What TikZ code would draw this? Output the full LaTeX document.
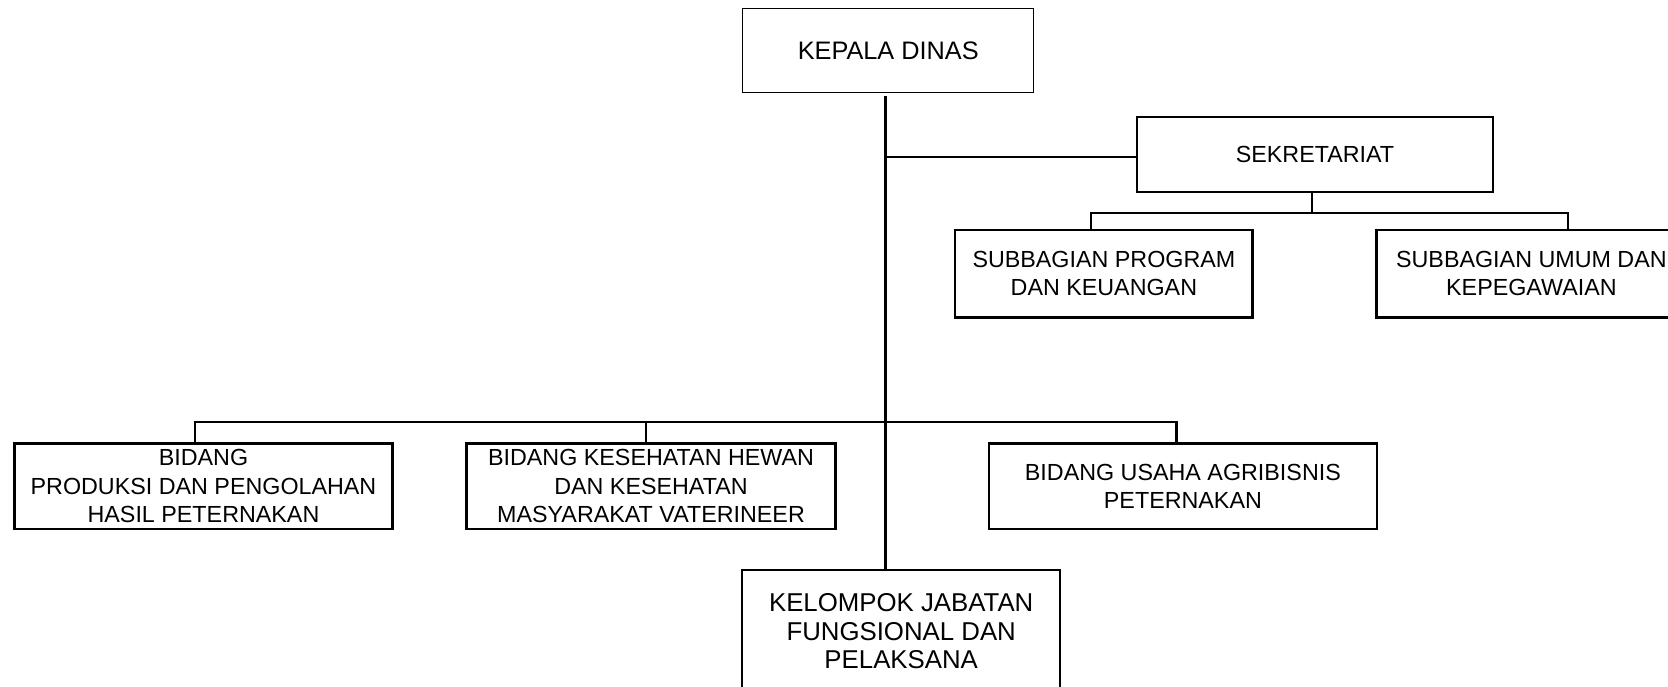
\documentclass[tikz,border=0pt]{standalone}
\usepackage{fontspec}
\setmainfont{Liberation Sans}
\begin{document}
\begin{tikzpicture}[x=1pt,y=-1pt,
  box/.style={draw=black, rectangle, inner sep=0pt, align=center,
    font=\fontsize{23.3}{28.5}\selectfont, line width=2.5pt},
  bigbox/.style={box, font=\fontsize{25.3}{28.5}\selectfont},
  conn/.style={draw=black, line width=2.2pt},
  trunk/.style={draw=black, line width=3pt}]
\useasboundingbox (0,0) rectangle (1668,687);
\fill[white] (0,0) rectangle (1668,687);

\node[bigbox, line width=1.4pt, minimum width=291pt, minimum height=84.4pt] (kd) at (888.2,50.5) {KEPALA DINAS};
\node[box, line width=2.2pt, minimum width=355.4pt, minimum height=74.7pt] (sek) at (1315,154.4) {SEKRETARIAT};
\node[box, line width=2.8pt, minimum width=297.7pt, minimum height=87.3pt] (sp) at (1103.9,273.7) {SUBBAGIAN PROGRAM\\DAN KEUANGAN};
\node[box, line width=2.8pt, minimum width=309.3pt, minimum height=87.3pt] (su) at (1531.4,273.7) {SUBBAGIAN UMUM DAN\\KEPEGAWAIAN};
\node[box, minimum width=378.3pt, minimum height=85.5pt] (b1) at (203.5,486.3) {BIDANG\\PRODUKSI DAN PENGOLAHAN\\HASIL PETERNAKAN};
\node[box, minimum width=368.6pt, minimum height=85.5pt] (b2) at (651,486.3) {BIDANG KESEHATAN HEWAN\\DAN KESEHATAN\\MASYARAKAT VATERINEER};
\node[box, minimum width=387.7pt, minimum height=85.5pt] (b3) at (1182.9,486.3) {BIDANG USAHA AGRIBISNIS\\PETERNAKAN};
\node[bigbox, font=\fontsize{25.8}{28.5}\selectfont, line width=2.2pt, minimum width=317.7pt, minimum height=123pt] (kel) at (901.2,631.5) {KELOMPOK JABATAN\\FUNGSIONAL DAN\\PELAKSANA};

% trunk
\coordinate (ts) at (885,95.7);
\coordinate (tk) at (885,157.3);
\draw[trunk] (ts) -- (ts |- kel.north);
% sekretariat branch
\draw[conn] (tk) -- (tk -| sek.west);
% sekretariat sub-bus
\coordinate (sb) at (1312,213.3);
\coordinate (sbl) at (1090.7,213.3);
\coordinate (sbr) at (1568.3,213.3);
\draw[conn] (sb |- sek.south) -- (sb);
\draw[conn, line join=miter] (sbl |- sp.north) -- (sbl) -- (sbr) -- (sbr |- su.north);
% bidang bus
\coordinate (bl) at (195,422);
\coordinate (bm) at (645.8,422);
\coordinate (br) at (1176.5,422);
\draw[trunk, line width=2.7pt, line join=miter] (bl |- b1.north) -- (bl) -- (br) -- (br |- b3.north);
\draw[conn] (bm) -- (bm |- b2.north);
\end{tikzpicture}
\end{document}
